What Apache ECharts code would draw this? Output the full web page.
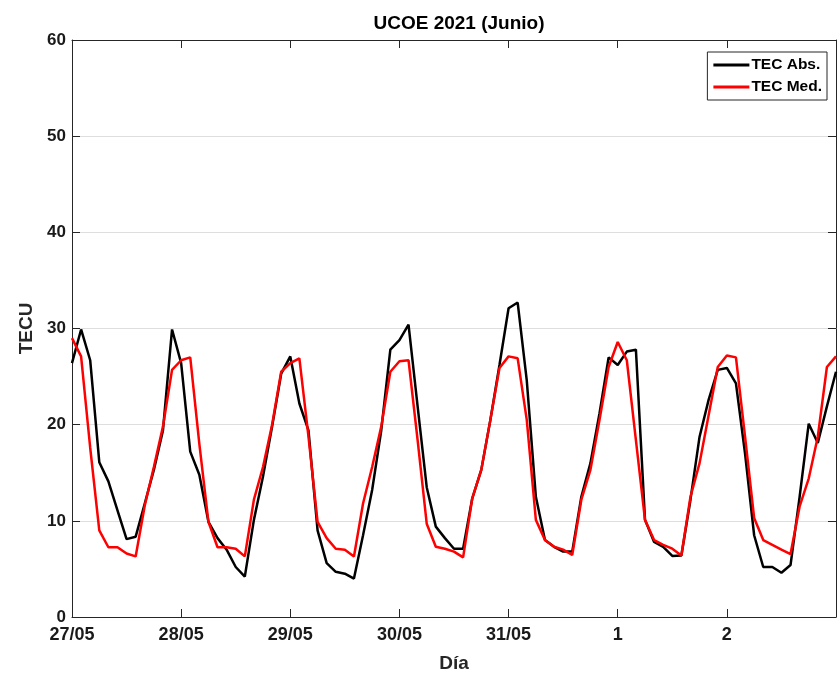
<!DOCTYPE html>
<html>
<head>
<meta charset="utf-8">
<script src="https://cdn.jsdelivr.net/npm/echarts@6/dist/echarts.min.js"></script>
<style>
  html, body { margin: 0; padding: 0; background: #fff; }
  #main { width: 838px; height: 673px; }
</style>
</head>
<body>
<div id="main"></div>
<script>
var myChart = echarts.init(document.getElementById('main'));

// horas desde 27/05 00:00, cada 2 h
var horas = [];
for (var i = 0; i <= 84; i++) {
    horas.push(i * 2);
}
var dayLabels = ['27/05', '28/05', '29/05', '30/05', '31/05', '1', '2', ''];

var tecAbs = [26.4, 29.9, 26.7, 16.1, 14.1, 11.1, 8.1, 8.35, 11.8, 15.3, 19.4, 29.9,
    26.4, 17.2, 14.8, 9.9, 8.2, 7.0, 5.2, 4.2, 10.1, 14.6, 19.8, 25.3,
    27.1, 22.2, 19.4, 9.0, 5.6, 4.7, 4.5, 4.0, 8.5, 13.2, 19.4, 27.8,
    28.8, 30.4, 21.9, 13.5, 9.4, 8.2, 7.1, 7.1, 12.3, 15.3, 20.5, 26.2,
    32.1, 32.7, 24.6, 12.5, 8.0, 7.3, 6.8, 6.8, 12.5, 16.0, 21.2, 27.0,
    26.2, 27.6, 27.8, 10.1, 7.8, 7.3, 6.35, 6.4, 12.2, 18.75, 22.6, 25.7,
    25.9, 24.3, 17.0, 8.5, 5.2, 5.2, 4.6, 5.4, 12.5, 20.1, 18.1, 21.9,
    25.5];
var tecMed = [29.0, 27.1, 17.6, 9.0, 7.25, 7.25, 6.6, 6.3, 11.6, 15.6, 19.8, 25.7,
    26.7, 27.0, 18.0, 9.9, 7.25, 7.25, 7.1, 6.3, 12.2, 15.6, 20.0, 25.5,
    26.4, 26.9, 18.75, 9.9, 8.2, 7.1, 7.0, 6.3, 11.8, 15.6, 19.8, 25.5,
    26.6, 26.7, 18.4, 9.7, 7.3, 7.1, 6.8, 6.2, 12.3, 15.3, 20.5, 25.9,
    27.1, 26.9, 20.5, 10.1, 8.0, 7.3, 7.0, 6.45, 12.2, 15.3, 20.5, 26.0,
    28.6, 26.7, 18.4, 10.1, 8.0, 7.5, 7.1, 6.4, 12.5, 16.0, 21.0, 26.0,
    27.2, 27.0, 18.75, 10.3, 8.0, 7.5, 7.0, 6.55, 11.5, 14.4, 18.75, 26.0,
    27.1];

function pares(ys) {
    var out = [];
    for (var i = 0; i < ys.length; i++) out.push([horas[i], ys[i]]);
    return out;
}

var fuente = 'Liberation Sans, Arial, sans-serif';
var ejeColor = '#262626';

option = {
    backgroundColor: '#fff',
    animation: false,
    title: {
        text: 'UCOE 2021 (Junio)',
        left: 454,
        textAlign: 'center',
        top: 9,
        textStyle: { fontFamily: fuente, fontSize: 19, fontWeight: 'bold', color: '#000' }
    },
    legend: {
        orient: 'vertical',
        right: 11,
        top: 52,
        backgroundColor: '#fff',
        borderColor: ejeColor,
        borderWidth: 1,
        borderRadius: 0,
        padding: [5, 5, 5, 6],
        itemGap: 6,
        itemWidth: 36,
        itemHeight: 3,
        icon: 'rect',
        textStyle: { fontFamily: fuente, fontSize: 15.5, fontWeight: 'bold', color: '#000', padding: [0, 0, 0, -3] },
        data: ['TEC Abs.', 'TEC Med.']
    },
    grid: { left: 72, right: 2, top: 40, bottom: 56, containLabel: false, outerBoundsMode: 'none' },
    xAxis: [
        {
            type: 'value',
            min: 0,
            max: 168,
            interval: 24,
            name: 'Día',
            nameLocation: 'middle',
            nameGap: 37,
            nameTextStyle: { fontFamily: fuente, fontSize: 19, fontWeight: 'bold', color: '#262626' },
            axisLine: { show: true, onZero: false, lineStyle: { color: ejeColor, width: 1 } },
            axisTick: { show: true, inside: true, length: 8, lineStyle: { color: ejeColor } },
            axisLabel: {
                fontFamily: fuente, fontSize: 18, fontWeight: 'bold', color: '#1a1a1a', margin: 9,
                formatter: function (v) { return dayLabels[Math.round(v / 24)]; }
            },
            splitLine: { show: false }
        },
        {
            type: 'value',
            position: 'top',
            min: 0,
            max: 168,
            interval: 24,
            axisLine: { show: true, onZero: false, lineStyle: { color: ejeColor, width: 1 } },
            axisTick: { show: true, inside: true, length: 8, lineStyle: { color: ejeColor } },
            axisLabel: { show: false },
            splitLine: { show: false }
        }
    ],
    yAxis: [
        {
            type: 'value',
            min: 0,
            max: 60,
            interval: 10,
            name: 'TECU',
            nameLocation: 'middle',
            nameGap: 33,
            nameTextStyle: { fontFamily: fuente, fontSize: 19, fontWeight: 'bold', color: '#262626' },
            axisLine: { show: true, onZero: false, lineStyle: { color: ejeColor, width: 1 } },
            axisTick: { show: true, inside: true, length: 8, lineStyle: { color: ejeColor } },
            axisLabel: { fontFamily: fuente, fontSize: 17, fontWeight: 'bold', color: '#1a1a1a', margin: 6 },
            splitLine: { show: true, lineStyle: { color: '#dedede', width: 1 } }
        },
        {
            type: 'value',
            position: 'right',
            min: 0,
            max: 60,
            interval: 10,
            axisLine: { show: true, onZero: false, lineStyle: { color: ejeColor, width: 1 } },
            axisTick: { show: true, inside: true, length: 8, lineStyle: { color: ejeColor } },
            axisLabel: { show: false },
            splitLine: { show: false }
        }
    ],
    series: [
        {
            name: 'TEC Abs.',
            type: 'line',
            symbol: 'none',
            color: '#000',
            lineStyle: { color: '#000', width: 2.5 },
            data: pares(tecAbs),
            z: 3
        },
        {
            name: 'TEC Med.',
            type: 'line',
            symbol: 'none',
            color: '#ff0000',
            lineStyle: { color: '#ff0000', width: 2.5 },
            data: pares(tecMed),
            z: 4
        }
    ]
};

myChart.setOption(option);
</script>
</body>
</html>
